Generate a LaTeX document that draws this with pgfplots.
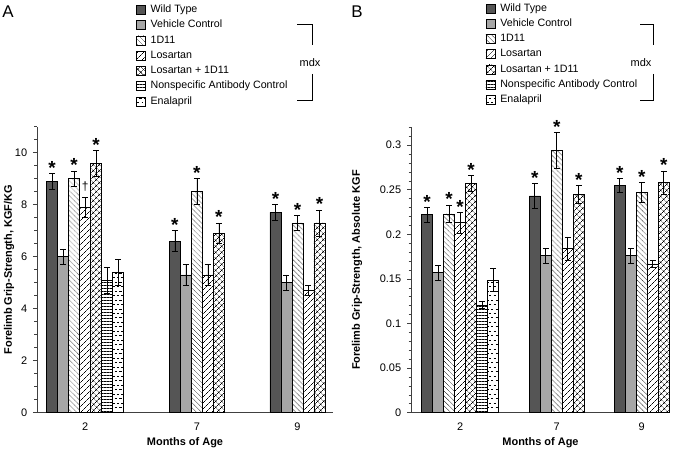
\documentclass[border=0pt]{standalone}
\usepackage{fontspec}
\setmainfont{Liberation Sans}
\usepackage{pgfplots}
\pgfplotsset{compat=1.18}
\usetikzlibrary{patterns,patterns.meta}

\pgfdeclarepatternformonly{dotnw}{\pgfqpoint{-0.5pt}{-0.5pt}}{\pgfqpoint{5.5pt}{5.5pt}}{\pgfqpoint{5pt}{5pt}}{%
  \pgfsetlinewidth{0.6pt}\pgfsetroundcap
  \pgfsetdash{{0.3pt}{1.1142pt}}{0pt}%
  \pgfpathmoveto{\pgfqpoint{0pt}{5pt}}\pgfpathlineto{\pgfqpoint{5pt}{0pt}}\pgfusepath{stroke}}
\pgfdeclarepatternformonly{dashrows}{\pgfqpoint{-0.5pt}{-0.5pt}}{\pgfqpoint{9.5pt}{9.5pt}}{\pgfqpoint{9pt}{9pt}}{%
  \pgfsetlinewidth{0.5pt}%
  \pgfpathmoveto{\pgfqpoint{0.4pt}{2.25pt}}\pgfpathlineto{\pgfqpoint{2.8pt}{2.25pt}}%
  \pgfpathmoveto{\pgfqpoint{4.9pt}{2.25pt}}\pgfpathlineto{\pgfqpoint{7.3pt}{2.25pt}}%
  \pgfpathmoveto{\pgfqpoint{2.6pt}{6.75pt}}\pgfpathlineto{\pgfqpoint{5.0pt}{6.75pt}}%
  \pgfpathmoveto{\pgfqpoint{7.1pt}{6.75pt}}\pgfpathlineto{\pgfqpoint{9pt}{6.75pt}}%
  \pgfusepath{stroke}}

\definecolor{wtgray}{HTML}{555555}
\definecolor{vehgray}{HTML}{A6A6A6}
\newcommand\dg{\fontsize{12}{12}\selectfont\mdseries\raisebox{8.5bp}{†}}

\pgfplotsset{
  panel/.style={scale only axis, clip=false,
    axis x line*=bottom, axis y line*=left,
    axis line style={black!75, line width=0.6bp},
    xmin=0, ymin=0,
    tick align=outside, major tick length=4bp, minor tick length=2.5bp,
    tick style={black!75, line width=0.6bp},
    xtick style={draw=none},
    x tick label style={yshift=-2.5bp},
    y tick label style={xshift=-2.3bp},
    /pgf/number format/assume math mode=true,
    xlabel={Months of Age},
    xlabel style={anchor=center, font=\fontsize{11}{13}\selectfont\bfseries},
    ylabel style={anchor=center, rotate=0, font=\fontsize{11}{13}\selectfont\bfseries},
    legend cell align=left,
    legend style={anchor=north west, draw=none, fill=none, inner sep=0pt, outer sep=0pt,
      row sep=4.8bp, column sep=5.1bp,
      nodes={inner sep=0pt, text height=8bp, text depth=2.5bp},
      font=\fontsize{10.7}{13}\selectfont},
  },
  mybar/.style={ybar, bar width=1, bar shift=0pt, draw=black, line width=0.5bp,
    error bars/y dir=both, error bars/y explicit,
    error bars/error mark=-,
    error bars/error bar style={line width=0.6bp, black, solid},
    error bars/error mark options={rotate=90, line width=0.6bp, mark size=3bp, black, solid, draw=black},
    legend image code/.code={\draw[##1, draw=black, line width=0.5bp] (0bp,-4.5bp) rectangle (9bp,4.5bp);}},
  stars/.style={forget plot, draw=none, mark=none, point meta=explicit symbolic,
    nodes near coords={\fontsize{19}{19}\selectfont\bfseries\pgfplotspointmeta},
    nodes near coords style={anchor=base, inner sep=0pt, yshift=-1bp, text=black}},
}

\begin{document}
\begin{tikzpicture}[font=\fontsize{11}{13}\selectfont]
\useasboundingbox (0,0) rectangle (678bp,450bp);

% ---------------- Panel A ----------------
\begin{axis}[panel, at={(37bp,37.3bp)}, anchor=south west,
  width=296bp, height=286bp, xmax=26.91, ymax=11,
  ytick={0,2,4,6,8,10}, minor ytick={0,0.5,...,11},
  xtick={4.38,14.53,23.68}, xticklabels={2,7,9},
  ylabel={Forelimb Grip-Strength, KGF/KG},
  ylabel style={at={(axis description cs:-0.0946,0.5)}},
  xlabel style={at={(axis description cs:0.5,-0.1045)}},
  legend style={at={(axis description cs:0.3345,1.4275)}},
]
\addplot[mybar, fill=wtgray] table[x=x,y=y,y error=e] {
x y e
1.38 8.9 0.3
12.53 6.6 0.4
21.68 7.7 0.3
};
\addlegendentry{Wild Type}
\addplot[mybar, fill=vehgray] table[x=x,y=y,y error=e] {
x y e
2.38 6.0 0.3
13.53 5.3 0.4
22.68 5.0 0.3
};
\addlegendentry{Vehicle Control}
\addplot[mybar, pattern=dotnw, pattern color=black] table[x=x,y=y,y error=e] {
x y e
3.38 9.0 0.3
14.53 8.5 0.5
23.68 7.3 0.3
};
\addlegendentry{1D11}
\addplot[mybar, pattern={Lines[angle=45,distance=3.9bp,line width=0.5bp]}] table[x=x,y=y,y error=e] {
x y e
4.38 7.9 0.37
15.53 5.3 0.4
24.68 4.7 0.2
};
\addlegendentry{Losartan}
\addplot[mybar, pattern={Hatch[angle=45,distance=3.9bp,line width=0.5bp]}] table[x=x,y=y,y error=e] {
x y e
5.38 9.6 0.5
16.53 6.9 0.4
25.68 7.3 0.5
};
\addlegendentry{Losartan + 1D11}
\addplot[mybar, pattern={Lines[angle=0,distance=3bp,line width=0.5bp]}] table[x=x,y=y,y error=e] {
x y e
6.38 5.1 0.5
};
\addlegendentry{Nonspecific Antibody Control}
\addplot[mybar, pattern=dashrows, pattern color=black] table[x=x,y=y,y error=e] {
x y e
7.38 5.4 0.5
};
\addlegendentry{Enalapril}
\addplot[stars] table[x=x,y=y,meta=t] {
x y t
1.38 9.2 *
3.38 9.3 *
4.38 8.27 \dg
5.38 10.1 *
12.53 7.0 *
14.53 9.0 *
16.53 7.3 *
21.68 8.0 *
23.68 7.6 *
25.68 7.8 *
};
\end{axis}

% ---------------- Panel B ----------------
\begin{axis}[panel, at={(411bp,37.3bp)}, anchor=south west,
  width=259bp, height=285.4bp, xmax=23.545, ymax=0.32,
  ytick={0,0.05,0.1,0.15,0.2,0.25,0.3},
  yticklabels={0,0.05,0.1,0.15,0.2,0.25,0.3},
  minor ytick={0,0.01,...,0.32},
  xtick={4.47,13.25,20.98}, xticklabels={2,7,9},
  ylabel={Forelimb Grip-Strength, Absolute KGF},
  ylabel style={at={(axis description cs:-0.2085,0.5)}},
  xlabel style={at={(axis description cs:0.5,-0.1051)}},
  legend style={at={(axis description cs:0.2884,1.4355)}},
]
\addplot[mybar, fill=wtgray] table[x=x,y=y,y error=e] {
x y e
1.47 0.222 0.008
11.25 0.243 0.014
18.98 0.255 0.008
};
\addlegendentry{Wild Type}
\addplot[mybar, fill=vehgray] table[x=x,y=y,y error=e] {
x y e
2.47 0.157 0.008
12.25 0.176 0.008
19.98 0.176 0.008
};
\addlegendentry{Vehicle Control}
\addplot[mybar, pattern=dotnw, pattern color=black] table[x=x,y=y,y error=e] {
x y e
3.47 0.223 0.010
13.25 0.294 0.020
20.98 0.247 0.011
};
\addlegendentry{1D11}
\addplot[mybar, pattern={Lines[angle=45,distance=3.9bp,line width=0.5bp]}] table[x=x,y=y,y error=e] {
x y e
4.47 0.213 0.012
14.25 0.184 0.013
21.98 0.167 0.004
};
\addlegendentry{Losartan}
\addplot[mybar, pattern={Hatch[angle=45,distance=3.9bp,line width=0.5bp]}] table[x=x,y=y,y error=e] {
x y e
5.47 0.257 0.009
15.25 0.245 0.010
22.98 0.258 0.013
};
\addlegendentry{Losartan + 1D11}
\addplot[mybar, pattern={Lines[angle=0,distance=3bp,line width=0.5bp]}] table[x=x,y=y,y error=e] {
x y e
6.47 0.121 0.004
};
\addlegendentry{Nonspecific Antibody Control}
\addplot[mybar, pattern=dashrows, pattern color=black] table[x=x,y=y,y error=e] {
x y e
7.47 0.149 0.013
};
\addlegendentry{Enalapril}
\addplot[stars] table[x=x,y=y,meta=t] {
x y t
1.47 0.230 *
3.47 0.233 *
4.47 0.225 *
5.47 0.266 *
11.25 0.257 *
13.25 0.314 *
15.25 0.255 *
18.98 0.263 *
20.98 0.258 *
22.98 0.271 *
};
\end{axis}

% brackets and panel letters
\draw[line width=0.6bp] (297bp,426bp) -- (312.3bp,426bp) -- (312.3bp,405bp);
\draw[line width=0.6bp] (312.3bp,376bp) -- (312.3bp,350bp) -- (297bp,350bp);
\node at (310bp,387.7bp) {mdx};
\draw[line width=0.6bp] (640bp,426bp) -- (653bp,426bp) -- (653bp,405bp);
\draw[line width=0.6bp] (653bp,376bp) -- (653bp,350bp) -- (640bp,350bp);
\node at (641bp,387.7bp) {mdx};
\node[font=\fontsize{17}{17}\selectfont] at (8bp,438bp) {A};
\node[font=\fontsize{17}{17}\selectfont] at (357bp,438bp) {B};
\end{tikzpicture}
\end{document}
